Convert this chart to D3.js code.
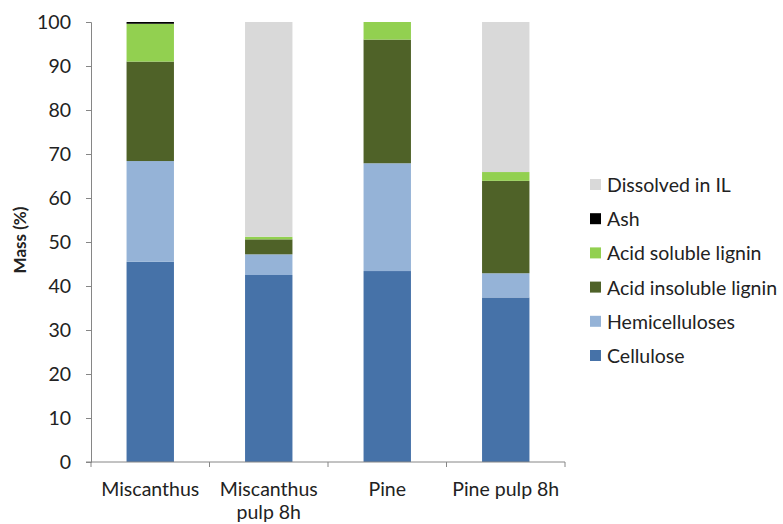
<!DOCTYPE html>
<html><head><meta charset="utf-8">
<script src="https://cdn.jsdelivr.net/npm/d3@7/dist/d3.min.js"></script>
<style>body{margin:0;background:#fff}svg{display:block}text{font-family:Lato,"Open Sans",sans-serif;fill:#222}</style>
</head><body><svg id="c" width="783" height="524"></svg>
<script>
const categories = ["Miscanthus", "Miscanthus\npulp 8h", "Pine", "Pine pulp 8h"];
const seriesNames = ["Cellulose", "Hemicelluloses", "Acid insoluble lignin", "Acid soluble lignin", "Ash", "Dissolved in IL"];
const cellulose = [45.5, 42.5, 43.4, 37.4];
const hemicelluloses = [22.9, 4.7, 24.5, 5.5];
const acidInsoluble = [22.6, 3.4, 28.1, 21.0];
const acidSoluble = [8.6, 0.6, 4.0, 2.0];
const ash = [0.4, 0, 0, 0];
const dissolved = [0, 48.8, 0, 34.1];
const yTicks = [0, 10, 20, 30, 40, 50, 60, 70, 80, 90, 100];
const colors = ["#4672a8", "#95b3d7", "#4f6228", "#92d050", "#000000", "#d9d9d9"];

const FS = 19.5;
const seriesVals = [cellulose, hemicelluloses, acidInsoluble, acidSoluble, ash, dissolved];
const rows = categories.map((c, i) => {
  const r = {cat: c};
  seriesNames.forEach((s, k) => r[s] = seriesVals[k][i]);
  return r;
});
const stack = d3.stack().keys(seriesNames)(rows);

const svg = d3.select("#c");
const x = d3.scaleBand().domain(categories).range([91, 565]).paddingInner(0.6).paddingOuter(0.3);
const xb = d3.scaleBand().domain(categories).range([91, 565]);
const y = d3.scaleLinear().domain([0, 100]).range([462, 22]);

stack.forEach((layer, k) => {
  svg.append("g").selectAll("rect").data(layer).join("rect")
    .attr("x", d => x(d.data.cat))
    .attr("width", x.bandwidth())
    .attr("y", d => y(d[1]))
    .attr("height", d => y(d[0]) - y(d[1]))
    .attr("fill", colors[k]);
});

// y axis
const ya = svg.append("g").attr("transform", "translate(91,0)")
  .call(d3.axisLeft(y).tickValues(yTicks).tickSize(5).tickPadding(15));
ya.select(".domain").attr("stroke", "#868686");
ya.selectAll(".tick line").attr("stroke", "#868686");
ya.selectAll(".tick text").attr("font-size", FS).attr("fill", "#222").style("font-family", "Lato, 'Open Sans', sans-serif");

// x axis
const xa = svg.append("g").attr("transform", "translate(0,462)");
xa.append("line").attr("x1", 86).attr("x2", 565).attr("stroke", "#868686");
const bounds = categories.map(c => xb(c)).concat([xb(categories[categories.length - 1]) + xb.bandwidth()]);
xa.selectAll(".bt").data(bounds).join("line").attr("class", "bt")
  .attr("x1", d => d).attr("x2", d => d).attr("y1", 0).attr("y2", 5).attr("stroke", "#868686");
categories.forEach(c => {
  const lines = c.split("\n");
  const t = xa.append("text").attr("text-anchor", "middle").attr("font-size", FS)
    .attr("x", xb(c) + xb.bandwidth() / 2).attr("y", 34);
  lines.forEach((l, i) => t.append("tspan").attr("x", xb(c) + xb.bandwidth() / 2).attr("dy", i ? 23 : 0).text(l));
});

// y title
svg.append("text").attr("transform", "translate(26,240) rotate(-90)")
  .attr("text-anchor", "middle").attr("font-size", 17).attr("font-weight", "bold").text("Mass (%)");

// legend
const legendOrder = seriesNames.slice().reverse();
const lg = svg.append("g");
legendOrder.forEach((s, i) => {
  const k = seriesNames.indexOf(s);
  const yy = 185 + i * 34.2;
  lg.append("rect").attr("x", 590).attr("y", yy - 6).attr("width", 11).attr("height", 11).attr("fill", colors[k]);
  lg.append("text").attr("x", 607).attr("y", yy + 7).attr("font-size", FS).text(s);
});
</script></body></html>
